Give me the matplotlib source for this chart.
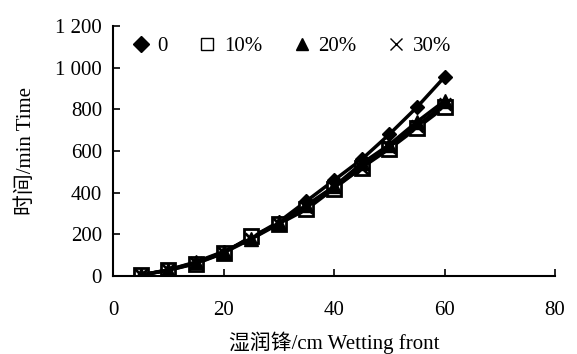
import numpy as np
import matplotlib
matplotlib.use("Agg")
import matplotlib.pyplot as plt
from matplotlib.ticker import FuncFormatter

plt.rcParams['font.family'] = ['Liberation Serif', 'Noto Sans CJK SC']

# wetting front depth (cm)
depth = [5, 10, 15, 20, 25, 30, 35, 40, 45, 50, 55, 60]
# time (min) for each treatment
t_0 = [5, 30, 65, 115, 185, 260, 360, 460, 560, 680, 810, 955]
t_10 = [5, 28, 60, 110, 190, 250, 320, 420, 520, 610, 710, 810]
t_20 = [5, 30, 68, 118, 180, 255, 340, 430, 540, 630, 740, 840]
t_30 = [5, 28, 62, 112, 178, 250, 330, 425, 520, 620, 720, 825]
labels = ['0', '10%', '20%', '30%']

fs = 15

fig = plt.figure(figsize=(5.77, 3.54), dpi=100)
ax = fig.add_axes([0.196, 0.22, 0.766, 0.707])

ax.plot(depth, t_0, color='k', lw=2.5, marker='D', ms=7, mfc='k', label=labels[0])
ax.plot(depth, t_10, color='k', lw=2.5, marker='s', ms=10, mfc='white', mew=2, label=labels[1])
ax.plot(depth, t_20, color='k', lw=2.5, marker='^', ms=10, mfc='k', label=labels[2])
ax.plot(depth, t_30, color='k', lw=2.5, marker='x', ms=8, mew=2, label=labels[3])

ax.set_xlim(0, 80)
ax.set_ylim(0, 1200)
ax.set_xticks([0, 20, 40, 60, 80])
ax.set_yticks(np.arange(0, 1201, 200))
ax.yaxis.set_major_formatter(FuncFormatter(lambda v, p: f"{int(v):,}".replace(',', ' ')))

ax.spines['top'].set_visible(False)
ax.spines['right'].set_visible(False)
ax.spines['left'].set_linewidth(1.5)
ax.spines['bottom'].set_linewidth(1.5)
ax.tick_params(axis='both', direction='in', length=5, width=1.2, labelsize=fs)
ax.tick_params(axis='x', pad=18)
ax.tick_params(axis='y', pad=8)

ax.set_xlabel('湿润锋/cm Wetting front', fontsize=fs, labelpad=8)
ax.set_ylabel('时间/min Time', fontsize=fs, labelpad=14)

# legend shows markers only
handles, lbls = ax.get_legend_handles_labels()
leg = ax.legend(handles, lbls, loc='upper left', bbox_to_anchor=(0.02, 1.0), ncol=4,
                frameon=False, fontsize=fs, handlelength=0.8, columnspacing=1.5,
                handletextpad=0.4, borderaxespad=0.1)
for h in leg.legend_handles:
    h.set_linestyle('')
    h.set_markersize(8)
    h.set_markeredgewidth(1)

fig.savefig('out.png', dpi=100)
